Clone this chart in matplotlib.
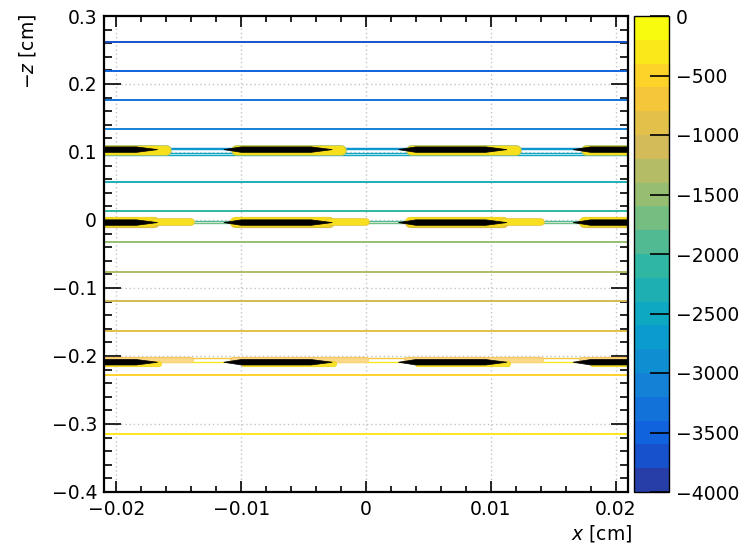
import numpy as np
import matplotlib
matplotlib.use("Agg")
import matplotlib.pyplot as plt
from matplotlib.colors import LinearSegmentedColormap, ListedColormap, BoundaryNorm
from matplotlib.colorbar import ColorbarBase
from matplotlib.patches import Polygon
from matplotlib.ticker import MultipleLocator

plt.rcParams["font.family"] = ["DejaVu Sans"]
plt.rcParams["mathtext.fontset"] = "custom"
plt.rcParams["mathtext.it"] = "DejaVu Sans:italic"
plt.rcParams["mathtext.rm"] = "DejaVu Sans"

# ---------------- data ----------------
# colour-scale boundaries (V)
level_edges = [-4000, -3800, -3600, -3400, -3200, -3000, -2800, -2600, -2400, -2200,
               -2000, -1800, -1600, -1400, -1200, -1000, -800, -600, -400, -200, 0]
cbar_ticks = [-4000, -3500, -3000, -2500, -2000, -1500, -1000, -500, 0]

# equipotential lines in the gaps: position -z [cm] and potential [V]
line_z = [0.262, 0.219, 0.177, 0.134, 0.0552, 0.0135,
          -0.0321, -0.0758, -0.1194, -0.1627, -0.228, -0.3153]
line_v = [-3600, -3400, -3200, -3000, -2200, -2000,
          -1400, -1200, -1000, -800, -400, -200]

# equipotential lines running along / through the GEM foils
foil_line_z = [0.1064, 0.1042, 0.0985, 0.0962, -0.0008, -0.0042, -0.2036, -0.2088]
foil_line_v = [-2800, -2600, -2400, -2400, -1800, -1600, -600, -200]

# GEM foils: position -z [cm] and electrode centres x [cm]
gem_z = [0.1035, -0.0038, -0.2092]
electrode_x = [-0.021, -0.007, 0.007, 0.021]

# ---------------- palette (ROOT kBird) ----------------
bird_r = [0.2082, 0.0592, 0.0780, 0.0232, 0.1802, 0.5301, 0.8186, 0.9956, 0.9764]
bird_g = [0.1664, 0.3599, 0.5041, 0.6419, 0.7178, 0.7492, 0.7328, 0.7862, 0.9832]
bird_b = [0.5293, 0.8684, 0.8385, 0.7914, 0.6425, 0.4662, 0.3499, 0.1968, 0.0539]
bird = LinearSegmentedColormap.from_list(
    "bird", list(zip(np.linspace(0, 1, len(bird_r)), zip(bird_r, bird_g, bird_b))))
nband = len(level_edges) - 1
cmap = ListedColormap([bird((i + 1) / nband) for i in range(nband)])
norm = BoundaryNorm(level_edges, cmap.N)


def line_colour(v):
    # a contour line at level v takes the colour of the band just below it
    return cmap(norm(np.asarray(v) - 1))


# ---------------- figure ----------------
W, H = 746, 546
fig = plt.figure(figsize=(W / 100, H / 100), dpi=100)
ax = fig.add_axes([104 / W, 1 - 492 / H, 524 / W, 476 / H])
cax = fig.add_axes([634 / W, 1 - 492 / H, 35 / W, 476 / H])

ax.set_xlim(-0.021, 0.021)
ax.set_ylim(-0.4, 0.3)

# grid
for gx in [-0.02, -0.01, 0.0, 0.01, 0.02]:
    ax.axvline(gx, color="#c4c4c4", lw=1.0, ls=(0, (1, 2)), zorder=0)
for gy in [-0.3, -0.2, -0.1, 0.0, 0.1, 0.2]:
    ax.axhline(gy, color="#c4c4c4", lw=1.0, ls=(0, (1, 2)), zorder=0)

# equipotential lines
ax.hlines(line_z, -0.021, 0.021, colors=line_colour(line_v), lw=1.4, zorder=2)
ax.hlines(foil_line_z, -0.021, 0.021, colors=line_colour(foil_line_v), lw=1.0, zorder=2)

# GEM electrodes: yellow halo + black tapered copper
halo_specs = [
    # (start, end, dz, width px, colour, edge colour)
    [(-0.0034, 0.0050, 0.0000, 9.0, "#f8df1c", "#a9c060")],
    [(-0.0035, 0.0040, 0.0003, 9.5, "#f8dc1a", "#d8c040"),
     (0.0040, 0.0070, 0.0003, 6.0, "#f8e020", "#e8c83a")],
    [(-0.0037, 0.0070, 0.0028, 4.5, "#fad88a", "#f4c860"),
     (-0.0028, 0.0044, -0.0030, 4.5, "#f9e22a", "#f0d030")],
]
half_t = 0.0040
for gi, zc in enumerate(gem_z):
    for xc in electrode_x:
        for (a, b, dz, w, col, ecol) in halo_specs[gi]:
            ax.plot([xc + a, xc + b], [zc + dz, zc + dz], color=ecol, lw=w * 0.72 + 1.2,
                    solid_capstyle="round", zorder=3)
            ax.plot([xc + a, xc + b], [zc + dz, zc + dz], color=col, lw=w * 0.72,
                    solid_capstyle="round", zorder=3)
        x0, x1 = xc - 0.0044, xc + 0.0043
        poly = Polygon([(x0, zc), (x0 + 0.0014, zc + half_t), (x1 - 0.0017, zc + half_t),
                        (x1, zc), (x1 - 0.0017, zc - half_t), (x0 + 0.0014, zc - half_t)],
                       closed=True, facecolor="black", edgecolor="black", lw=0.5, zorder=4)
        ax.add_patch(poly)

# axes styling
for sp in ax.spines.values():
    sp.set_linewidth(1.6)
    sp.set_zorder(6)
ax.xaxis.set_major_locator(MultipleLocator(0.01))
ax.xaxis.set_minor_locator(MultipleLocator(0.002))
ax.yaxis.set_major_locator(MultipleLocator(0.1))
ax.yaxis.set_minor_locator(MultipleLocator(0.02))
ax.tick_params(axis="both", which="both", direction="in", top=True, right=True,
               width=1.2, labelsize=13.5, colors="black")
ax.tick_params(axis="x", which="major", length=8, pad=6)
ax.tick_params(axis="x", which="minor", length=4.5)
ax.tick_params(axis="y", which="major", length=12.5, pad=5)
ax.tick_params(axis="y", which="minor", length=6)
ax.set_xticks([-0.02, -0.01, 0.0, 0.01, 0.02])
ax.set_xticklabels(["\u22120.02", "\u22120.01", "0", "0.01", "0.02"])
ax.set_yticks([-0.4, -0.3, -0.2, -0.1, 0.0, 0.1, 0.2, 0.3])
ax.set_yticklabels(["\u22120.4", "\u22120.3", "\u22120.2", "\u22120.1", "0", "0.1", "0.2", "0.3"])

fig.text(632 / W, 1 - 534 / H, "$x$ [cm]", ha="right", va="center", fontsize=13.5)
fig.text(27 / W, 1 - 14 / H, "\u2212$z$ [cm]", ha="center", va="top", rotation=90, fontsize=13.5)

# colour bar
cb = ColorbarBase(cax, cmap=cmap, norm=norm, boundaries=level_edges,
                  ticks=cbar_ticks, spacing="proportional")
cb.outline.set_linewidth(1.0)
cax.tick_params(axis="y", direction="in", length=14, width=1.2, labelsize=13.5, pad=5,
                left=False, right=True)
cax.minorticks_off()
cax.set_yticklabels(["\u2212%d" % abs(t) if t else "0" for t in cbar_ticks])

fig.savefig("out.png", dpi=100, facecolor="white")
